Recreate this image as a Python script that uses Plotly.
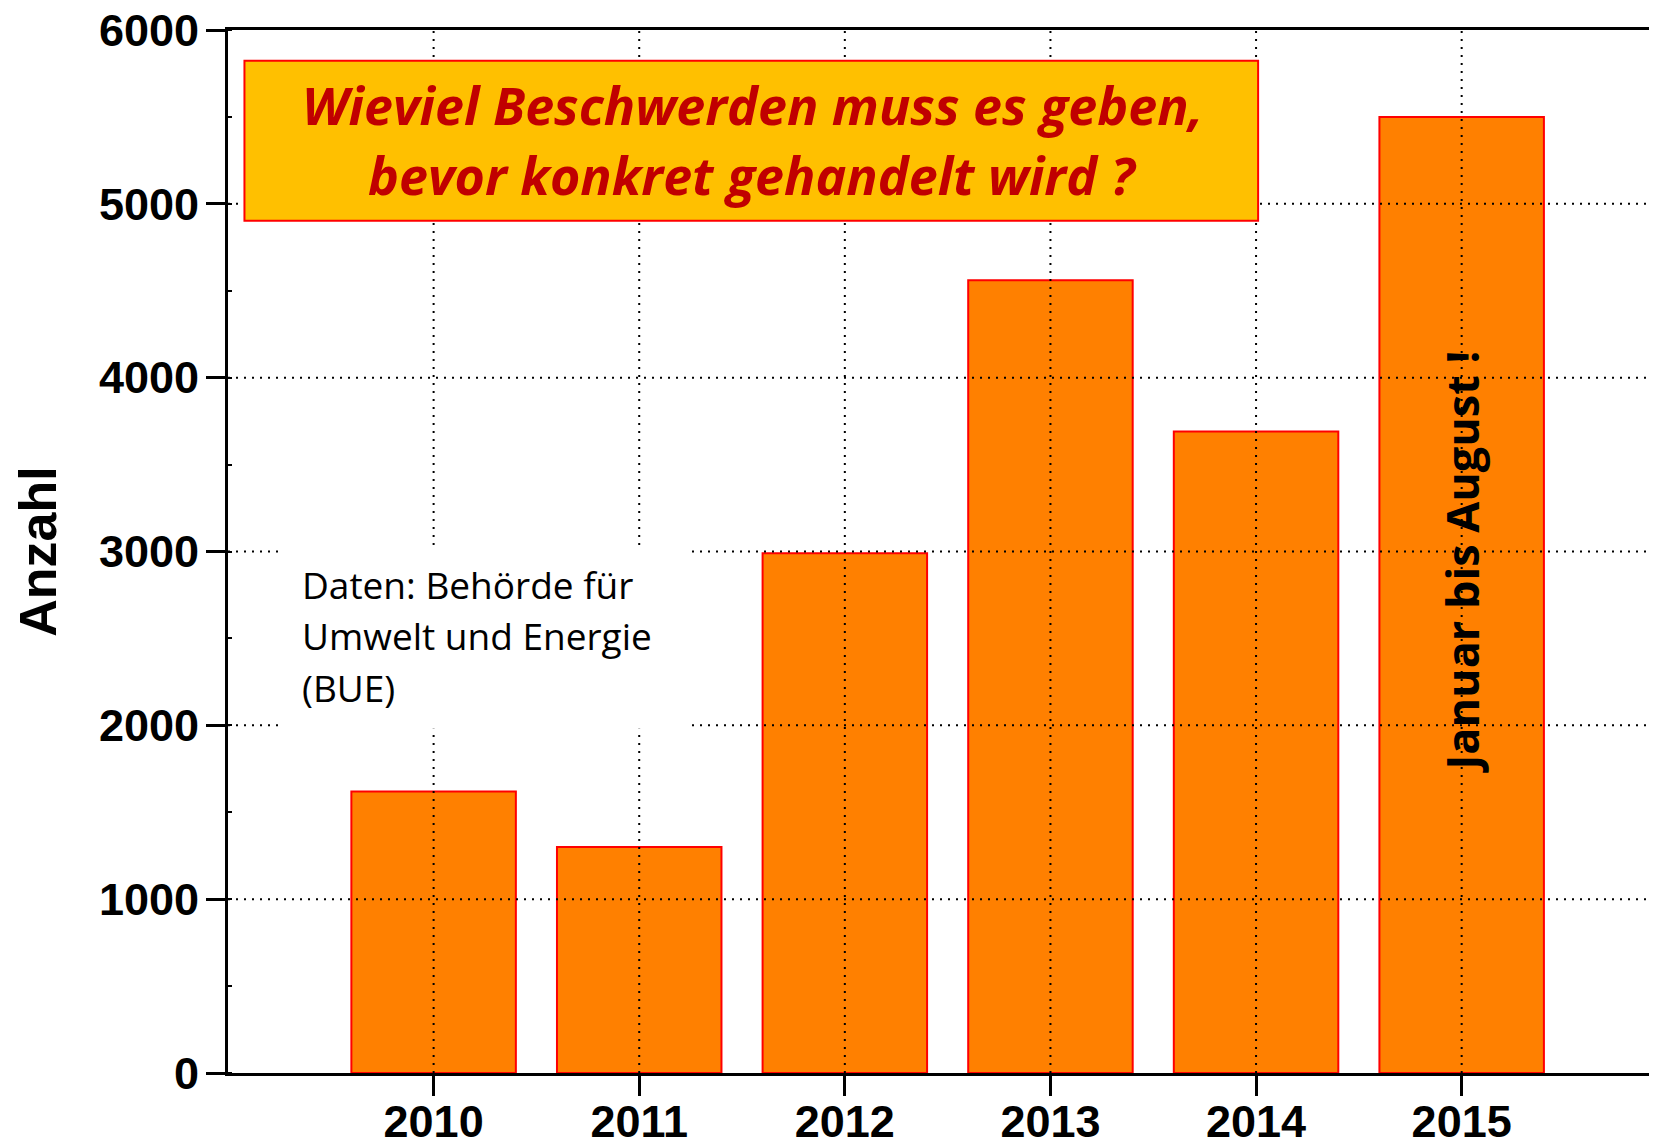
import plotly.graph_objects as go

# ---- data ----
years = [2010, 2011, 2012, 2013, 2014, 2015]
year_labels = ["2010", "2011", "2012", "2013", "2014", "2015"]
complaints = [1620, 1300, 2990, 4560, 3690, 5500]
y_ticks = [0, 1000, 2000, 3000, 4000, 5000, 6000]
y_tick_labels = ["0", "1000", "2000", "3000", "4000", "5000", "6000"]
y_title = "Anzahl"
headline_lines = ["Wieviel Beschwerden muss es geben,", "bevor konkret gehandelt wird ?"]
source_lines = ["Daten: Behörde für", "Umwelt und Energie", "(BUE)"]
note_2015 = "Januar bis August !"

AX_FONT = "Liberation Sans, Arial, sans-serif"
TXT_FONT = "Open Sans, Lato, sans-serif"

fig = go.Figure()
fig.add_trace(go.Bar(
    x=years, y=complaints, width=0.8,
    marker=dict(color="#FF8000", line=dict(color="#FF0000", width=2)),
    hoverinfo="x+y",
))

shapes = []
# dotted grid drawn above the bars
for v in y_ticks[1:-1]:
    shapes.append(dict(type="line", xref="paper", yref="y", x0=0, x1=1, y0=v, y1=v,
                       line=dict(color="black", width=2, dash="2px,6px"), layer="above"))
for yr in years:
    shapes.append(dict(type="line", xref="x", yref="paper", x0=yr, x1=yr, y0=0, y1=1,
                       line=dict(color="black", width=2, dash="2px,6px"), layer="above"))
# headline box
shapes.append(dict(type="rect", xref="x", yref="y", x0=2009.08, x1=2014.01, y0=4902, y1=5823,
                   fillcolor="#FFC000", line=dict(color="#FF0000", width=2), layer="above"))
# white box behind source text
shapes.append(dict(type="rect", xref="x", yref="y", x0=2009.25, x1=2011.255, y0=1980, y1=3015,
                   fillcolor="white", line=dict(width=0), layer="above"))

headline_font = dict(family=TXT_FONT, size=52, color="#C00000", weight="bold", style="italic")
annotations = [
    dict(xref="x", yref="y", x=2011.55, y=5570, text=headline_lines[0], showarrow=False,
         font=headline_font),
    dict(xref="x", yref="y", x=2011.55, y=5170, text=headline_lines[1], showarrow=False,
         font=headline_font),
]
source_y = [2810, 2515, 2220]
for txt, yy in zip(source_lines, source_y):
    annotations.append(dict(xref="x", yref="y", x=2009.35, y=yy, xanchor="left", yanchor="middle",
                            align="left", text=txt, showarrow=False,
                            font=dict(family=TXT_FONT, size=37, color="black")))
annotations.append(dict(xref="x", yref="y", x=2015, y=2940, text=note_2015, textangle=-90,
                        showarrow=False,
                        font=dict(family=TXT_FONT, size=45, color="black", weight="bold")))

# the page body adds an 8px offset, so the figure is sized to end at the window edge
fig.update_layout(
    width=1649, height=1135,
    margin=dict(l=220, r=0, t=22, b=70, autoexpand=False),
    paper_bgcolor="white", plot_bgcolor="white",
    showlegend=False,
    bargap=0.2,
    shapes=shapes,
    annotations=annotations,
    xaxis=dict(
        range=[2009.0, 2015.95], tickmode="array", tickvals=years, ticktext=year_labels,
        ticks="outside", ticklen=20, tickwidth=3, tickcolor="black",
        showline=True, linewidth=3, linecolor="black", mirror=True,
        showgrid=False, zeroline=False, automargin=False,
        tickfont=dict(family=AX_FONT, size=45, color="black", weight="bold"),
        ticklabelstandoff=-13, ticklabeloverflow="allow",
    ),
    yaxis=dict(
        range=[0, 6000], tickmode="array", tickvals=y_ticks, ticktext=y_tick_labels,
        ticks="outside", ticklen=19, tickwidth=3, tickcolor="black",
        showline=True, linewidth=3, linecolor="black",
        showgrid=False, zeroline=False, automargin=False,
        minor=dict(dtick=500, ticks="inside", ticklen=4, tickwidth=2, tickcolor="black", showgrid=False),
        tickfont=dict(family=AX_FONT, size=45, color="black", weight="bold"),
        ticklabelstandoff=-2, ticklabeloverflow="allow",
        title=dict(text=y_title, standoff=26,
                   font=dict(family=AX_FONT, size=52, color="black", weight="bold")),
    ),
)

fig.write_html("out.html")
